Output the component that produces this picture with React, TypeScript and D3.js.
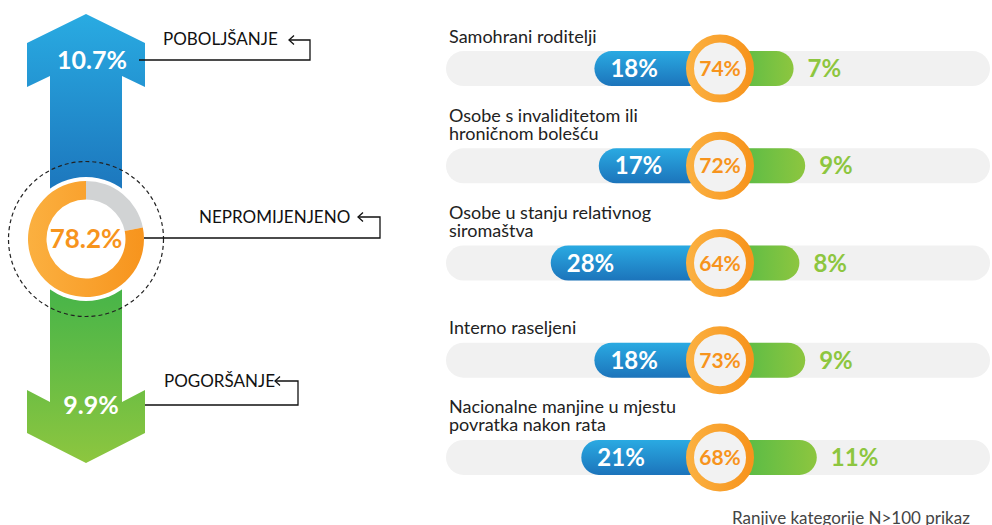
import React from 'react';
import * as d3 from 'd3';

// ---------- DATA ----------
const categories: string[][] = [
  ['Samohrani roditelji'],
  ['Osobe s invaliditetom ili', 'hroničnom bolešću'],
  ['Osobe u stanju relativnog', 'siromaštva'],
  ['Interno raseljeni'],
  ['Nacionalne manjine u mjestu', 'povratka nakon rata'],
];
const worseValues = [18, 17, 28, 18, 21];
const sameValues = [74, 72, 64, 73, 68];
const betterValues = [7, 9, 8, 9, 11];

const summaryLabels = ['POBOLJŠANJE', 'NEPROMIJENJENO', 'POGORŠANJE'];
const summaryValues = [10.7, 78.2, 9.9];
const footnote = 'Ranjive kategorije N>100 prikaz';

const FONT = 'Lato, "Noto Sans", sans-serif';

export default function App() {
  const W = 992;
  const H = 525;

  // right panel scales
  const rowY = d3
    .scalePoint<number>()
    .domain(categories.map((_, i) => i))
    .range([68.6, 457.4]);
  const cx = 720; // circle centre x
  const trackX0 = 446;
  const trackX1 = 990;
  const barH = 35;
  const leftLen = d3.scaleLinear().domain([0, 30]).range([47, 47 + 131]);
  const rightLen = d3.scaleLinear().domain([0, 12]).range([33, 33 + 69.6]);

  // donut
  const dcx = 86;
  const dcy = 239;
  const pie = d3
    .pie<number>()
    .sort(null)
    .value((d) => d);
  const unchanged = summaryValues[1];
  const donutData = pie([100 - unchanged, unchanged]);
  const arc = d3.arc<d3.PieArcDatum<number>>().innerRadius(39.5).outerRadius(58);

  const upArrow = d3.line()([
    [86, 14],
    [145, 43],
    [145, 87],
    [122, 76],
    [122, 200],
    [50, 200],
    [50, 76],
    [27, 87],
    [27, 43],
  ]) + 'Z';
  const downArrow = d3.line()([
    [50, 280],
    [122, 280],
    [122, 402],
    [145, 390],
    [145, 433],
    [86, 463],
    [27, 433],
    [27, 390],
    [50, 402],
  ]) + 'Z';

  const leaders = [
    { line: [[139, 60], [310, 60], [310, 40], [289, 40]], tx: 163, ty: 45 },
    { line: [[144, 238], [380, 238], [380, 217], [358, 217]], tx: 199, ty: 223 },
    { line: [[145, 405], [298, 405], [298, 381], [275, 381]], tx: 164, ty: 387 },
  ];
  const lineGen = d3.line();

  return (
    <svg
      width={W}
      height={H}
      style={{ position: 'absolute', left: 0, top: 0, background: '#fff' }}
      fontFamily={FONT}
    >
      <defs>
        <linearGradient id="blueV" x1="0" y1="0" x2="0" y2="1">
          <stop offset="0" stopColor="#2aaae2" />
          <stop offset="1" stopColor="#1c74bb" />
        </linearGradient>
        <linearGradient id="greenH" x1="0" y1="0" x2="1" y2="0">
          <stop offset="0" stopColor="#39b54a" />
          <stop offset="1" stopColor="#8dc63f" />
        </linearGradient>
        <linearGradient id="orangeH" x1="0" y1="0" x2="1" y2="0">
          <stop offset="0" stopColor="#fbb040" />
          <stop offset="1" stopColor="#f7941d" />
        </linearGradient>
        <linearGradient id="upG" gradientUnits="userSpaceOnUse" x1="0" y1="14" x2="0" y2="195">
          <stop offset="0" stopColor="#29abe2" />
          <stop offset="1" stopColor="#1c75bc" />
        </linearGradient>
        <linearGradient id="downG" gradientUnits="userSpaceOnUse" x1="0" y1="285" x2="0" y2="463">
          <stop offset="0" stopColor="#45b449" />
          <stop offset="1" stopColor="#8dc63f" />
        </linearGradient>
      </defs>

      {/* ---------- LEFT PANEL ---------- */}
      <path d={upArrow} fill="url(#upG)" />
      <path d={downArrow} fill="url(#downG)" />
      <circle cx={dcx} cy={dcy} r={62} fill="#fff" />
      <g transform={`translate(${dcx},${dcy})`}>
        <path d={arc(donutData[0]) || ''} fill="#d1d3d4" />
        <path d={arc(donutData[1]) || ''} fill="url(#orangeH)" />
      </g>
      <circle
        cx={dcx}
        cy={dcy}
        r={77.5}
        fill="none"
        stroke="#222"
        strokeWidth={1.2}
        strokeDasharray="4 3"
      />
      <text x={92} y={69} textAnchor="middle" fontSize={25} fontWeight={700} fill="#fff">
        {summaryValues[0]}%
      </text>
      <text x={86} y={248} textAnchor="middle" fontSize={26} fontWeight={700} fill="#f7941d">
        {summaryValues[1]}%
      </text>
      <text x={91} y={414} textAnchor="middle" fontSize={25} fontWeight={700} fill="#fff">
        {summaryValues[2]}%
      </text>

      {leaders.map((l, i) => {
        const tip = l.line[l.line.length - 1];
        return (
          <g key={i}>
            <path d={lineGen(l.line as [number, number][]) || ''} fill="none" stroke="#111" strokeWidth={1.3} />
            <path
              d={`M${tip[0] + 5},${tip[1] - 4.5} L${tip[0]},${tip[1]} L${tip[0] + 5},${tip[1] + 4.5}`}
              fill="none"
              stroke="#111"
              strokeWidth={1.3}
            />
            <text x={l.tx} y={l.ty} fontSize={17} fill="#111">
              {summaryLabels[i]}
            </text>
          </g>
        );
      })}

      {/* ---------- RIGHT PANEL ---------- */}
      {categories.map((lines, i) => {
        const y = rowY(i) as number;
        const left = cx - leftLen(worseValues[i]);
        const right = cx + rightLen(betterValues[i]);
        return (
          <g key={i}>
            <text fontSize={18} fill="#222">
              {lines.map((t, j) => (
                <tspan key={j} x={449} y={y - 26 - (lines.length - 1 - j) * 18}>
                  {t}
                </tspan>
              ))}
            </text>
            <rect
              x={trackX0}
              y={y - barH / 2}
              width={trackX1 - trackX0}
              height={barH}
              rx={barH / 2}
              fill="#f1f1f1"
            />
            <rect
              x={cx - 20}
              y={y - barH / 2}
              width={right - (cx - 20)}
              height={barH}
              rx={barH / 2}
              fill="url(#greenH)"
            />
            <rect
              x={left}
              y={y - barH / 2}
              width={cx - left}
              height={barH}
              rx={barH / 2}
              fill="url(#blueV)"
            />
            <circle cx={cx} cy={y} r={30} fill="#f2f2f2" stroke="url(#orangeH)" strokeWidth={8} />
            <text x={left + 16} y={y + 8.5} fontSize={24} fontWeight={700} fill="#fff">
              {worseValues[i]}%
            </text>
            <text x={cx} y={y + 7.5} textAnchor="middle" fontSize={21} fontWeight={700} fill="#f7941d">
              {sameValues[i]}%
            </text>
            <text x={right + 14} y={y + 8.5} fontSize={24} fontWeight={700} fill="#8dc63f">
              {betterValues[i]}%
            </text>
          </g>
        );
      })}

      <text x={732} y={524} fontSize={17} fill="#444">
        {footnote}
      </text>
    </svg>
  );
}
